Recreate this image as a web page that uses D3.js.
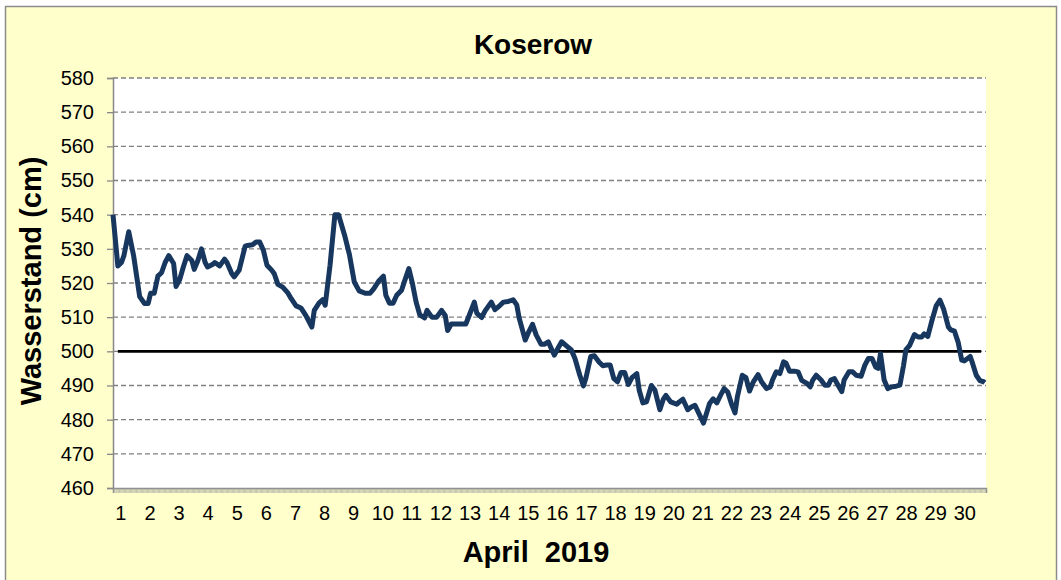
<!DOCTYPE html>
<html>
<head>
<meta charset="utf-8">
<script src="https://cdn.jsdelivr.net/npm/d3@7"></script>
<style>
  body { margin: 0; background: #fff; }
  text { font-family: "Liberation Sans", Arial, sans-serif; }
</style>
</head>
<body>
<svg id="chart" width="1061" height="580"></svg>
<script>
// water level at Koserow, April 2019 (hours since 1 April 00:00, cm)
const hours = [
  0, 4, 7, 9, 13, 17, 22, 26, 29, 31, 34, 37, 40, 43, 46, 50, 52, 55, 58, 61,
  65, 67, 70, 73, 76, 78, 82, 84, 88, 92, 94, 98, 100, 104, 109, 111, 115, 118, 121, 124,
  127, 131, 133, 136, 140, 144, 147, 151, 155, 159, 164, 166, 170, 173, 175, 179, 183, 186, 191, 195,
  199, 203, 208, 212, 215, 219, 223, 225, 228, 231, 234, 238, 240, 244, 247, 250, 253, 257, 259, 263,
  267, 271, 274, 276, 279, 283, 289, 291, 294, 298, 300, 304, 307, 312, 315, 319, 322, 326, 330, 333,
  335, 340, 343, 346, 349, 353, 356, 359, 362, 364, 367, 370, 374, 378, 381, 385, 388, 390, 394, 397,
  401, 404, 407, 410, 413, 416, 419, 422, 425, 428, 432, 434, 437, 440, 444, 447, 451, 454, 456, 460,
  465, 467, 470, 474, 477, 480, 482, 487, 489, 492, 495, 498, 501, 504, 507, 510, 513, 515, 519, 522,
  525, 528, 532, 535, 539, 542, 544, 547, 550, 553, 555, 558, 562, 565, 568, 572, 575, 577, 580, 584,
  587, 590, 592, 595, 598, 601, 603, 607, 610, 613, 617, 620, 623, 626, 629, 631, 633, 636, 639, 642,
  646, 649, 652, 654, 657, 661, 664, 667, 669, 672, 675, 679, 682, 685, 689, 691, 694, 697, 700, 702,
  707, 709, 712, 715, 718, 719
];
const levels = [
  540, 525, 526, 528, 535, 528, 516, 514, 514, 517, 517, 522, 523, 526, 528, 525.7, 519, 521, 524.7, 528,
  526.6, 524, 526.6, 530, 526, 524.7, 525.4, 526, 525, 527, 526, 522.7, 521.8, 523.7, 530.8, 531, 531.2, 532, 532, 529.6,
  525.2, 523.7, 522.7, 519.6, 518.8, 517.2, 515.4, 513.3, 512.7, 510.5, 507.1, 512, 514.2, 515.1, 513.5, 525.2, 540, 540, 534, 528.3,
  520.3, 517.7, 517, 517, 518.3, 520.5, 522, 516.4, 514.1, 514.1, 516.4, 517.9, 520.1, 524.2, 519.8, 514.4, 510.7, 509.8, 512, 510,
  510, 512, 510.5, 506.1, 508, 508, 508, 508, 510.7, 514.4, 511.2, 509.9, 511.9, 514.4, 512.2, 513.4, 514.4, 514.6, 515.1, 513.6,
  509.7, 503.3, 505.8, 507.9, 504.8, 502.1, 502.1, 502.8, 500.4, 498.9, 500.9, 502.8, 501.6, 500.4, 497.9, 493, 489.9, 492.1, 498.5, 498.7,
  496.8, 495.8, 496, 496, 492.1, 491.1, 493.8, 493.8, 490.3, 492.3, 493.5, 488.6, 484.9, 485.2, 490, 488.6, 482.9, 486.1, 487.1, 485.2,
  484.5, 485.2, 486, 482.9, 483.7, 484.2, 482.7, 479, 481.3, 484.7, 486.1, 484.9, 487.1, 489.1, 488.1, 484.7, 482, 486.8, 493, 492.3,
  488.4, 491, 493.2, 491, 489.1, 489.6, 491.7, 494, 493.5, 496.9, 496.6, 494.2, 494.2, 494, 491.5, 490.7, 489.6, 491.5, 493, 491.6,
  490.1, 490.1, 491.6, 492, 490.1, 488.2, 491.6, 494, 494, 493, 492.7, 495.9, 497.9, 497.9, 495.4, 495, 499.3, 491.6, 489.1, 489.6,
  489.8, 490.1, 495.9, 500.5, 501.7, 504.9, 504.2, 504.2, 505.1, 504.4, 508.5, 513.4, 515, 512.4, 507.1, 506.3, 505.9, 502.7, 497.4, 497.2,
  498.5, 496.4, 493, 491.4, 491.1, 490.8
];

// reference level line
const refHours = [4, 716];
const refLevel = 500;

const days = d3.range(1, 31);
const yTicks = d3.range(460, 581, 10);

const chartTitle = "Koserow";
const xTitle = "April  2019";
const yTitle = "Wasserstand (cm)";

const svg = d3.select("#chart");
const plot = { left: 113, right: 986, top: 78, bottom: 488 };

const x = d3.scaleLinear().domain([0, 720]).range([plot.left, plot.right]);
const y = d3.scaleLinear().domain([460, 580]).range([plot.bottom, plot.top]);

// chart background + frame
svg.append("rect")
  .attr("x", 5.5).attr("y", 6.5)
  .attr("width", 1051).attr("height", 590)
  .attr("fill", "#ffffcc")
  .attr("stroke", "#8c8c8c")
  .attr("stroke-width", 1.5);

svg.append("rect")
  .attr("x", plot.left).attr("y", plot.top)
  .attr("width", plot.right - plot.left)
  .attr("height", plot.bottom - plot.top)
  .attr("fill", "#fff");

// grid lines
svg.append("g")
  .selectAll("line")
  .data(yTicks.filter(d => d > 460))
  .join("line")
  .attr("x1", plot.left).attr("x2", plot.right)
  .attr("y1", d => y(d)).attr("y2", d => y(d))
  .attr("stroke", "#808080")
  .attr("stroke-width", 1.4)
  .attr("stroke-dasharray", "5,3");

// y axis
const yAxis = svg.append("g")
  .attr("transform", `translate(${plot.left},0)`)
  .call(d3.axisLeft(y).tickValues(yTicks).tickSize(6).tickPadding(13));
yAxis.select(".domain").attr("stroke", "#888").attr("stroke-width", 1.5);
yAxis.selectAll(".tick line").attr("stroke", "#888").attr("stroke-width", 1.3);
yAxis.selectAll(".tick text")
  .attr("font-size", 20)
  .attr("fill", "#000")
  .style("font-family", "'Liberation Sans', Arial, sans-serif");

// x axis: hourly minor ticks
const xAxis = svg.append("g")
  .attr("transform", `translate(0,${plot.bottom})`)
  .call(d3.axisBottom(x).tickValues(d3.range(0, 721, 1)).tickSize(5).tickFormat(""));
xAxis.select(".domain").attr("stroke", "#888").attr("stroke-width", 1.5);
xAxis.selectAll(".tick line").attr("stroke", "#9a9a9a").attr("stroke-width", 0.6);

// day labels
svg.append("g")
  .selectAll("text")
  .data(days)
  .join("text")
  .attr("x", d => x((d - 1) * 24 + 6.5))
  .attr("y", 520)
  .attr("text-anchor", "middle")
  .attr("font-size", 20)
  .text(d => d);

// 500 cm reference line
svg.append("line")
  .attr("x1", x(refHours[0])).attr("x2", x(refHours[1]))
  .attr("y1", y(refLevel)).attr("y2", y(refLevel))
  .attr("stroke", "#000")
  .attr("stroke-width", 2.6);

// water level
const line = d3.line()
  .x((d, i) => x(hours[i]))
  .y(d => y(d));

svg.append("path")
  .datum(levels)
  .attr("d", line)
  .attr("fill", "none")
  .attr("stroke", "#17375e")
  .attr("stroke-width", 5)
  .attr("stroke-linejoin", "round")
  .attr("stroke-linecap", "butt");

// titles
svg.append("text")
  .attr("x", 533).attr("y", 54)
  .attr("text-anchor", "middle")
  .attr("font-size", 28)
  .attr("font-weight", "bold")
  .text(chartTitle);

svg.append("text")
  .attr("x", 536).attr("y", 562)
  .attr("text-anchor", "middle")
  .attr("font-size", 29)
  .attr("font-weight", "bold")
  .style("white-space", "pre")
  .text(xTitle);

svg.append("text")
  .attr("transform", "translate(41,281) rotate(-90)")
  .attr("text-anchor", "middle")
  .attr("font-size", 29)
  .attr("font-weight", "bold")
  .text(yTitle);
</script>
</body>
</html>
